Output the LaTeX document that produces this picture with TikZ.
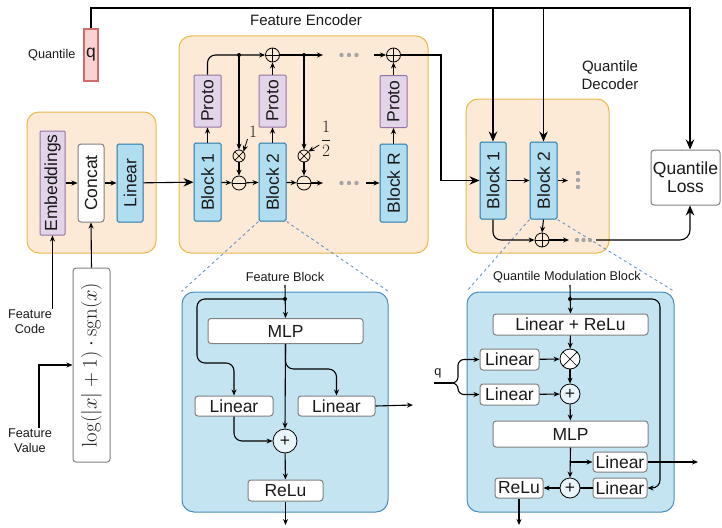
\documentclass[tikz,border=0pt]{standalone}
\usepackage[no-math]{fontspec}
\setmainfont{Liberation Sans}
\usepackage{graphicx}
\usetikzlibrary{arrows.meta,positioning,calc}
\definecolor{fg}{HTML}{1A1A1A}
\definecolor{grpfill}{HTML}{FCE9D6}
\definecolor{grpline}{HTML}{E9B949}
\definecolor{blkfill}{HTML}{B1DDF0}
\definecolor{blkline}{HTML}{2479A8}
\definecolor{protofill}{HTML}{E1D5E7}
\definecolor{protoline}{HTML}{9673A6}
\definecolor{qfill}{HTML}{F8D3D2}
\definecolor{qline}{HTML}{D06C6C}
\definecolor{zfill}{HTML}{C4E4F2}
\definecolor{zline}{HTML}{4A8DBE}
\definecolor{wline}{HTML}{808080}
\definecolor{zoomdash}{HTML}{6A96CC}
\definecolor{dotgray}{HTML}{A6A6A6}
\definecolor{opfill}{HTML}{EAF5FB}
\newcommand\fbig{\fontsize{17.5}{20}\selectfont}
\newcommand\fmid{\fontsize{15}{18}\selectfont}
\newcommand\flbl{\fontsize{12.7}{15}\selectfont}

\begin{document}
\begin{tikzpicture}[x=1pt,y=-1pt,
  line width=1.1pt, >={Stealth[length=6pt,width=5pt]},
  big/.style={-{Stealth[length=10pt,width=8.5pt]}},
  every node/.append style={text=fg},
  grp/.style={draw=grpline, fill=grpfill, rounded corners=12pt, line width=1pt},
  zbox/.style={draw=zline, fill=zfill, rounded corners=12pt, line width=1pt},
  blk/.style={draw=blkline, fill=blkfill, rounded corners=1.5pt, inner sep=0pt, font=\fbig, line width=1pt},
  proto/.style={draw=protoline, fill=protofill, rounded corners=1pt, inner sep=0pt, font=\fbig, line width=1pt},
  wbox/.style={draw=wline, fill=white, rounded corners=3pt, inner sep=0pt, font=\fbig, line width=1pt},
  lbl/.style={font=\flbl, align=center, inner sep=1pt},
  wlbl/.style={font=\fontsize{17}{20}\selectfont, inner sep=1pt},
  oplus/.style={circle, draw, inner sep=0pt, minimum size=14pt, line width=0.8pt,
    path picture={\draw[line width=0.7pt] (path picture bounding box.north) -- (path picture bounding box.south)
      (path picture bounding box.west) -- (path picture bounding box.east);}},
  ominus/.style={circle, draw, inner sep=0pt, minimum size=14pt, line width=0.8pt,
    path picture={\draw[line width=0.7pt] (path picture bounding box.west) -- (path picture bounding box.east);}},
  otimes/.style={circle, draw, inner sep=0pt, minimum size=12pt, line width=0.8pt,
    path picture={\draw[line width=0.7pt] (path picture bounding box.north west) -- (path picture bounding box.south east)
      (path picture bounding box.north east) -- (path picture bounding box.south west);}},
  op/.style={circle, draw, fill=opfill, inner sep=0pt, minimum size=20pt, line width=0.8pt, font=\fbig},
]
\useasboundingbox (0,0) rectangle (722,527);
% quantile input
\node[draw=qline, fill=qfill, inner sep=0pt, minimum width=14, minimum height=52, font=\fbig] (q) at (91,55) {q};
\node[lbl, anchor=east] (qlabel) at (77,55) {Quantile};
% input encoding
\node[grp, minimum width=129, minimum height=141] (inbox) at (91.5,182.5) {};
\node[proto, minimum width=25, minimum height=104] (emb) at (52.5,183) {\rotatebox{90}{Embeddings}};
\node[wbox, minimum width=26, minimum height=78] (cat) at (91,183) {\rotatebox{90}{Concat}};
\node[blk, minimum width=26, minimum height=78] (lin) at (130,183) {\rotatebox{90}{Linear}};
\node[wbox, minimum width=37, minimum height=194, font=\fontsize{20}{24}\selectfont] (log) at (91.5,365)
  {\rotatebox{90}{$\log(|x|+1)\cdot\mathrm{sgn}(x)$}};
\node[lbl] (fcode) at (30,322) {Feature\\Code};
\node[lbl] (fval) at (30,441) {Feature\\Value};
% feature encoder
\node[grp, minimum width=249, minimum height=217] (enc) at (303.5,144.5) {};
\node[font=\fmid] (enctitle) at (306,20) {Feature Encoder};
\node[blk, minimum width=27, minimum height=78] (blk1) at (207.5,182) {\rotatebox{90}{Block 1}};
\node[proto, minimum width=27, minimum height=52] (pro1) at (207.5,101) {\rotatebox{90}{Proto}};
\node[blk, minimum width=27, minimum height=78] (blk2) at (272.5,182) {\rotatebox{90}{Block 2}};
\node[proto, minimum width=27, minimum height=52] (pro2) at (272.5,101) {\rotatebox{90}{Proto}};
\node[blk, minimum width=27, minimum height=78] (blkR) at (393.5,183) {\rotatebox{90}{Block R}};
\node[proto, minimum width=27, minimum height=52] (proR) at (393.5,101.5) {\rotatebox{90}{Proto}};
\node[ominus] (m1) at (239,183) {};
\node[otimes] (x1) at (239,156) {};
\node[ominus] (m2) at (304,183) {};
\node[otimes] (x2) at (304,156) {};
\node[oplus] (p2) at (272.5,55) {};
\node[oplus] (pR) at (393.5,55) {};
\node[wlbl] (w1) at (253,132) {$1$};
\node[wlbl] (w2) at (326,139) {$\displaystyle\frac{1}{2}$};
\coordinate (d1) at (239,55);
\coordinate (d2) at (304,55);
% quantile decoder
\node[grp, minimum width=143, minimum height=154] (dec) at (537.5,176) {};
\node[font=\fmid, align=center] (dectitle) at (610,75) {Quantile\\Decoder};
\node[blk, minimum width=26, minimum height=77] (dblk1) at (493,180.5) {\rotatebox{90}{Block 1}};
\node[blk, minimum width=27, minimum height=77] (dblk2) at (543.5,180.5) {\rotatebox{90}{Block 2}};
\node[oplus] (dp) at (542,240) {};
\node[wbox, minimum width=69, minimum height=55, align=center] (loss) at (685.5,177.5) {Quantile\\[-2pt]Loss};
% feature block (zoom)
\node[zbox, minimum width=206, minimum height=220] (fb) at (285,402) {};
\node[lbl] (fbtitle) at (285,277) {Feature Block};
\node[wbox, minimum width=155, minimum height=25] (fmlp) at (285.5,331) {MLP};
\node[wbox, minimum width=78, minimum height=20] (flinL) at (234,406) {Linear};
\node[wbox, minimum width=77, minimum height=20] (flinR) at (336.5,406) {Linear};
\node[op, minimum size=24pt] (fplus) at (285,441) {+};
\node[wbox, minimum width=75, minimum height=21] (frelu) at (285.5,490.5) {ReLu};
\coordinate (fin) at (285,299);
% quantile modulation block (zoom)
\node[zbox, minimum width=207, minimum height=220] (qm) at (570.5,402) {};
\node[lbl] (qmtitle) at (567,277) {Quantile Modulation Block};
\node[wbox, minimum width=155, minimum height=21] (qlr) at (570.5,324.5) {Linear + ReLu};
\node[op, fill=white, path picture={\draw[line width=0.7pt] (path picture bounding box.north west) -- (path picture bounding box.south east)
      (path picture bounding box.north east) -- (path picture bounding box.south west);}] (qx) at (570,359) {};
\node[op] (qp1) at (570,394) {+};
\node[wbox, minimum width=59, minimum height=21] (qlin1) at (509.5,359.5) {Linear};
\node[wbox, minimum width=59, minimum height=21] (qlin2) at (509.5,394.5) {Linear};
\node[lbl] (qin) at (438,373) {q};
\node[wbox, minimum width=155, minimum height=26] (qmlp) at (570.5,434) {MLP};
\node[wbox, minimum width=54, minimum height=20] (qlin3) at (620,462) {Linear};
\node[wbox, minimum width=54, minimum height=20] (qlin4) at (620,488) {Linear};
\node[op] (qp2) at (570,488) {+};
\node[wbox, minimum width=48, minimum height=20] (qrelu) at (519,488) {ReLu};
\coordinate (qtop) at (570,299);
% zoom guides
\draw[zoomdash, dashed, line width=0.9pt] (blk2.south west) -- (fb.north west) (blk2.south east) -- (fb.north east);
\draw[zoomdash, dashed, line width=0.9pt] (dblk2.south west) -- (qm.north west) (dblk2.south east) -- (qm.north east);
% quantile feed
\draw[big] (q.north) -- (q.north |- 0,8) -| ([xshift=4.5pt]loss.north);
\draw[big] (dblk1.north |- 0,8) -- (dblk1.north);
\draw[big] (dblk2.north |- 0,8) -- (dblk2.north);
% input encoding flows
\draw[->] (emb) -- (cat);
\draw[->] (cat) -- (lin);
\draw[big] (lin) -- (blk1);
\draw[->] (log.north) -- (cat.south);
\draw[->] (emb.south |- fcode.north) -- (emb.south);
\draw[->] ([xshift=9pt]fval.north) |- (log.west);
% encoder flows
\foreach \b/\p in {blk1/pro1, blk2/pro2, blkR/proR} {
  \draw[->] (\b) -- (\p);
}
\draw[->] (pro2) -- (p2);
\draw[->] (proR) -- (pR);
\draw[->, rounded corners=8pt] (pro1.north) |- (p2.west);
\fill (d1) circle (2pt) (d2) circle (2pt);
\draw[->] (d1) -- (x1);
\draw[->] (d2) -- (x2);
\draw[->] (x1) -- (m1);
\draw[->] (x2) -- (m2);
\draw[->] (blk1) -- (m1);
\draw[->] (m1) -- (blk2);
\draw[->] (blk2) -- (m2);
\draw[->] (m2.east) -- (323,183);
\draw[->] (p2.east) -- (323,55);
\draw[->] (366,183) -- (blkR.west);
\draw[->] (374,55) -- (pR.west);
\draw[->, line width=0.8pt] (w1.south west) -- (x1.north east);
\draw[->, line width=0.8pt] ([yshift=-6pt]w2.west) -- (x2.north east);
\foreach \y in {55,183} {
  \foreach \x in {341.5,349,356.5} \fill[dotgray] (\x,\y) circle (2.2pt);
}
\draw[big] (pR.east) -- (441,55) |- (dblk1.west);
% decoder flows
\draw[->] (dblk1) -- (dblk2);
\draw[->] (dblk2.east) -- (568,180.5);
\foreach \y in {173,180,187} \fill[dotgray] (578,\y) circle (2.2pt);
\draw[->, rounded corners=8pt] (dblk1.south) |- (dp.west);
\draw[->] (dblk2.south) -- (dp.north);
\draw[->] (dp.east) -- (569,240);
\foreach \x in {577,583.5,590} \fill[dotgray] (\x,240) circle (2.2pt);
\draw[big, rounded corners=10pt] (596,240) -| ([xshift=4.5pt]loss.south);
% feature block flows
\draw[->] (285,285) -- (fmlp.north);
\fill (fin) circle (2pt);
\draw[->, rounded corners=8pt] (fin) -| (197,363) -| (flinL.north);
\draw[->] (fmlp.south) -- (fplus.north);
\draw[->, rounded corners=8pt] (fmlp.south) |- (flinR.north |- 0,369) -- (flinR.north);
\draw[->, rounded corners=8pt] (flinL.south) |- (fplus.west);
\draw[->] (fplus) -- (frelu);
\draw[->] (frelu.south) -- (285.5,525);
\draw[->] (flinR.east) -- (413,405);
% modulation block flows
\draw[->] (570,285) -- (qlr.north);
\fill (qtop) circle (2pt);
\draw[->, rounded corners=8pt] (qtop) -| (660,350) |- (qlin4.east);
\draw[->] (qlr) -- (qx);
\draw[->] (qlin1) -- (qx);
\draw[->] (qx) -- (qp1);
\draw[->] (qlin2) -- (qp1);
\draw[->] (qp1) -- (qmlp);
\draw[->] (qmlp.south) -- (qp2.north);
\draw[->] (570,462) -- (qlin3.west);
\draw[->] (qlin3.east) -- (698,462);
\draw (qlin4) -- (qp2);
\draw[->] (qp2) -- (qrelu);
\draw[->] (qrelu.south) -- (519,525);
\draw[line width=1.6pt] (434,383) -- (452,383);
\draw[->, rounded corners=6pt] (451,383) -- (458,383) |- (qlin1.west);
\draw[->, rounded corners=6pt] (451,383) -- (458,383) |- (qlin2.west);
\end{tikzpicture}
\end{document}
